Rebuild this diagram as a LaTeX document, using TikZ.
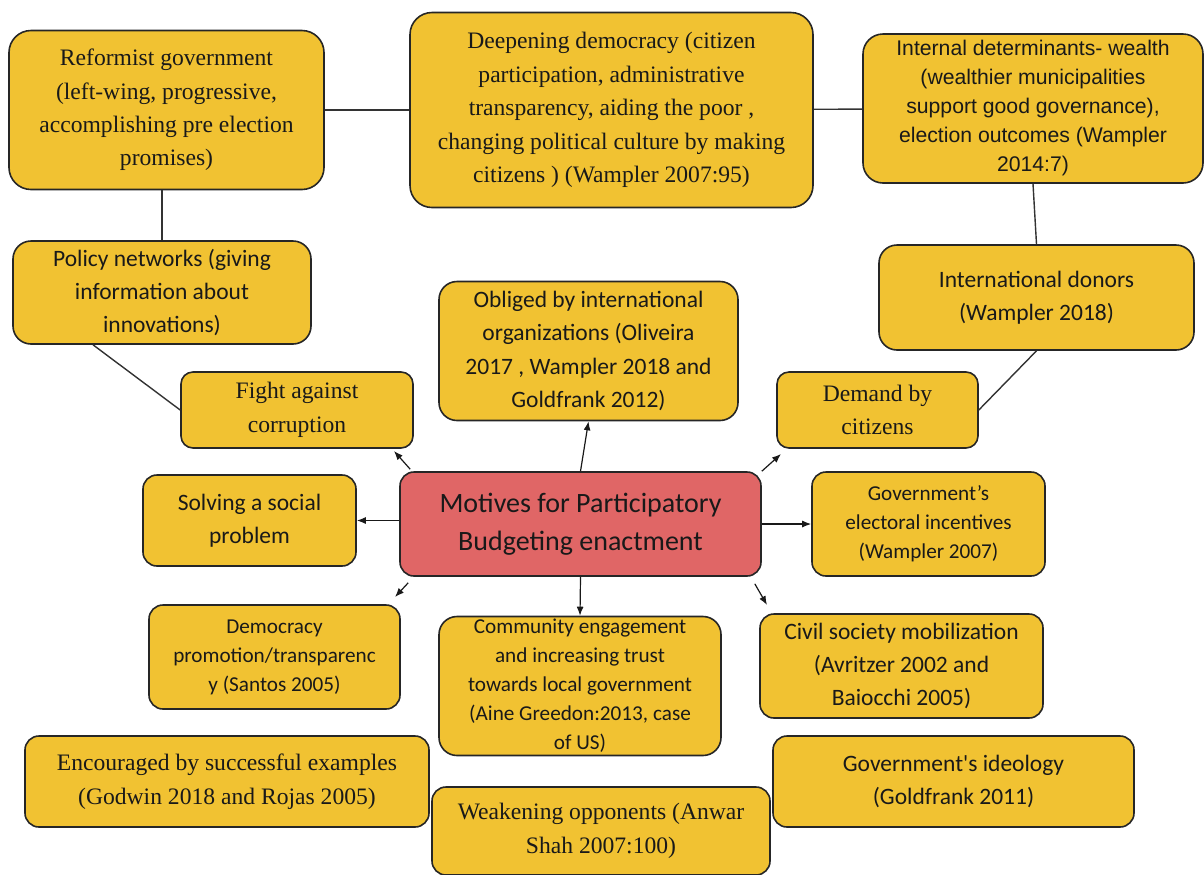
\documentclass[tikz,border=0pt]{standalone}
\usepackage{fontspec}
\setmainfont{Liberation Serif}
\newfontfamily\calibfont{Carlito}
\newfontfamily\arialfont{Liberation Sans}
\usetikzlibrary{arrows.meta}
\definecolor{boxyellow}{RGB}{241,194,50}
\definecolor{motivered}{RGB}{224,102,102}
\tikzset{
  ybox/.style={draw=black!85, line width=0.8pt, fill=boxyellow, rounded corners=7pt,
    align=center, inner sep=0pt, text=black!90},
  romanbox/.style={ybox, font=\fontsize{11.8pt}{16.7pt}\selectfont},
  calbig/.style={ybox, font=\calibfont\fontsize{11.75pt}{16.7pt}\selectfont},
  calsmall/.style={ybox, font=\calibfont\fontsize{10.6pt}{14.5pt}\selectfont},
  arialbox/.style={ybox, font=\arialfont\fontsize{10.6pt}{14.5pt}\selectfont},
  link/.style={line width=0.7pt, draw=black!80},
  arr/.style={line width=0.6pt, draw=black!90, -{Latex[length=4.5pt,width=3.5pt]}},
}
\begin{document}
\begin{tikzpicture}[x=0.5pt,y=-0.5pt]
\useasboundingbox (0,0) rectangle (1204,874);

% top row
\node[romanbox, rounded corners=11pt, minimum width=157.5pt, minimum height=79.5pt] (reform) at (166.5,110)
  {Reformist government\\(left-wing, progressive,\\accomplishing pre election\\promises)};
\node[romanbox, rounded corners=11pt, minimum width=201.5pt, minimum height=97.5pt] (deep) at (611.5,110)
  {Deepening democracy (citizen\\participation, administrative\\transparency, aiding the poor ,\\changing political culture by making\\citizens ) (Wampler 2007:95)};
\node[arialbox, rounded corners=10pt, minimum width=170pt, minimum height=74.5pt] (internal) at (1033,108.5)
  {Internal determinants- wealth\\(wealthier municipalities\\support good governance),\\election outcomes (Wampler\\2014:7)};

% second row
\node[calbig, rounded corners=9pt, minimum width=149pt, minimum height=51.5pt] (policy) at (162,292.5)
  {Policy networks (giving\\information about\\innovations)};
\node[calbig, rounded corners=9pt, minimum width=157.5pt, minimum height=52.5pt] (donors) at (1036.5,297.5)
  {International donors\\(Wampler 2018)};
\node[calbig, rounded corners=9pt, minimum width=149.5pt, minimum height=69.5pt] (obliged) at (588.5,351)
  {Obliged by international\\organizations (Oliveira\\2017 , Wampler 2018 and\\Goldfrank 2012)};
\node[romanbox, rounded corners=6pt, minimum width=116pt, minimum height=38pt] (fight) at (297,410)
  {Fight against\\corruption};
\node[romanbox, rounded corners=6pt, minimum width=100.5pt, minimum height=38pt] (demand) at (877.5,410)
  {Demand by\\citizens};

% middle row
\node[ybox, fill=motivered, rounded corners=7pt, minimum width=180.5pt, minimum height=52pt,
  font=\calibfont\fontsize{14pt}{19.2pt}\selectfont] (motives) at (580.5,524)
  {Motives for Participatory\\Budgeting enactment};
\node[calbig, minimum width=106.5pt, minimum height=45.5pt] (solving) at (249.5,520.5)
  {Solving a social\\problem};
\node[calsmall, minimum width=116.5pt, minimum height=52pt] (electoral) at (928.5,524)
  {Government’s\\electoral incentives\\(Wampler 2007)};

% lower rows
\node[calsmall, minimum width=125.5pt, minimum height=52pt] (democracy) at (274.5,657)
  {Democracy\\promotion/transparenc\\y (Santos 2005)};
\node[calsmall, rounded corners=9pt, minimum width=141pt, minimum height=69.5pt] (community) at (580,686)
  {Community engagement\\and increasing trust\\towards local government\\(Aine Greedon:2013, case\\of US)};
\node[calbig, minimum width=141.5pt, minimum height=52pt] (civil) at (901.5,666)
  {Civil society mobilization\\(Avritzer 2002 and\\Baiocchi 2005)};
\node[romanbox, minimum width=202pt, minimum height=45.5pt] (encouraged) at (227,781.5)
  {Encouraged by successful examples\\(Godwin 2018 and Rojas 2005)};
\node[romanbox, minimum width=169pt, minimum height=44pt] (weakening) at (601,831)
  {Weakening opponents (Anwar\\Shah 2007:100)};
\node[calbig, minimum width=180.5pt, minimum height=45.5pt] (ideology) at (953.5,781.5)
  {Government's ideology\\(Goldfrank 2011)};

% plain links
\draw[link] (reform) -- (deep);
\draw[link] (deep) -- (internal);
\draw[link] (policy.north) -- (policy.north |- reform.south);
\draw[link] (internal.south) -- (donors.north);
\draw[link] ([xshift=-34.5pt]policy.south) -- (fight.west);
\draw[link] (donors.south) -- (demand.east);

% arrows out of the centre
\coordinate (tipNW) at (394,451);
\coordinate (tipNE) at (781,454);
\coordinate (tipSW) at (395,597);
\coordinate (tipSE) at (767,605);
\draw[arr] ([xshift=5.5pt,yshift=1pt]motives.north west) -- (tipNW);
\draw[arr] (motives.north east) -- (tipNE);
\draw[arr] ([xshift=4.5pt,yshift=-3pt]motives.south west) -- (tipSW);
\draw[arr] ([xshift=-3.5pt,yshift=-3.5pt]motives.south east) -- (tipSE);
\draw[arr] (motives.north) -- (obliged.south);
\draw[arr] (motives.south) -- (community.north);
\draw[arr] (motives.east) -- (electoral.west);
\draw[arr] (motives.west |- solving) -- (solving.east);

\end{tikzpicture}
\end{document}
